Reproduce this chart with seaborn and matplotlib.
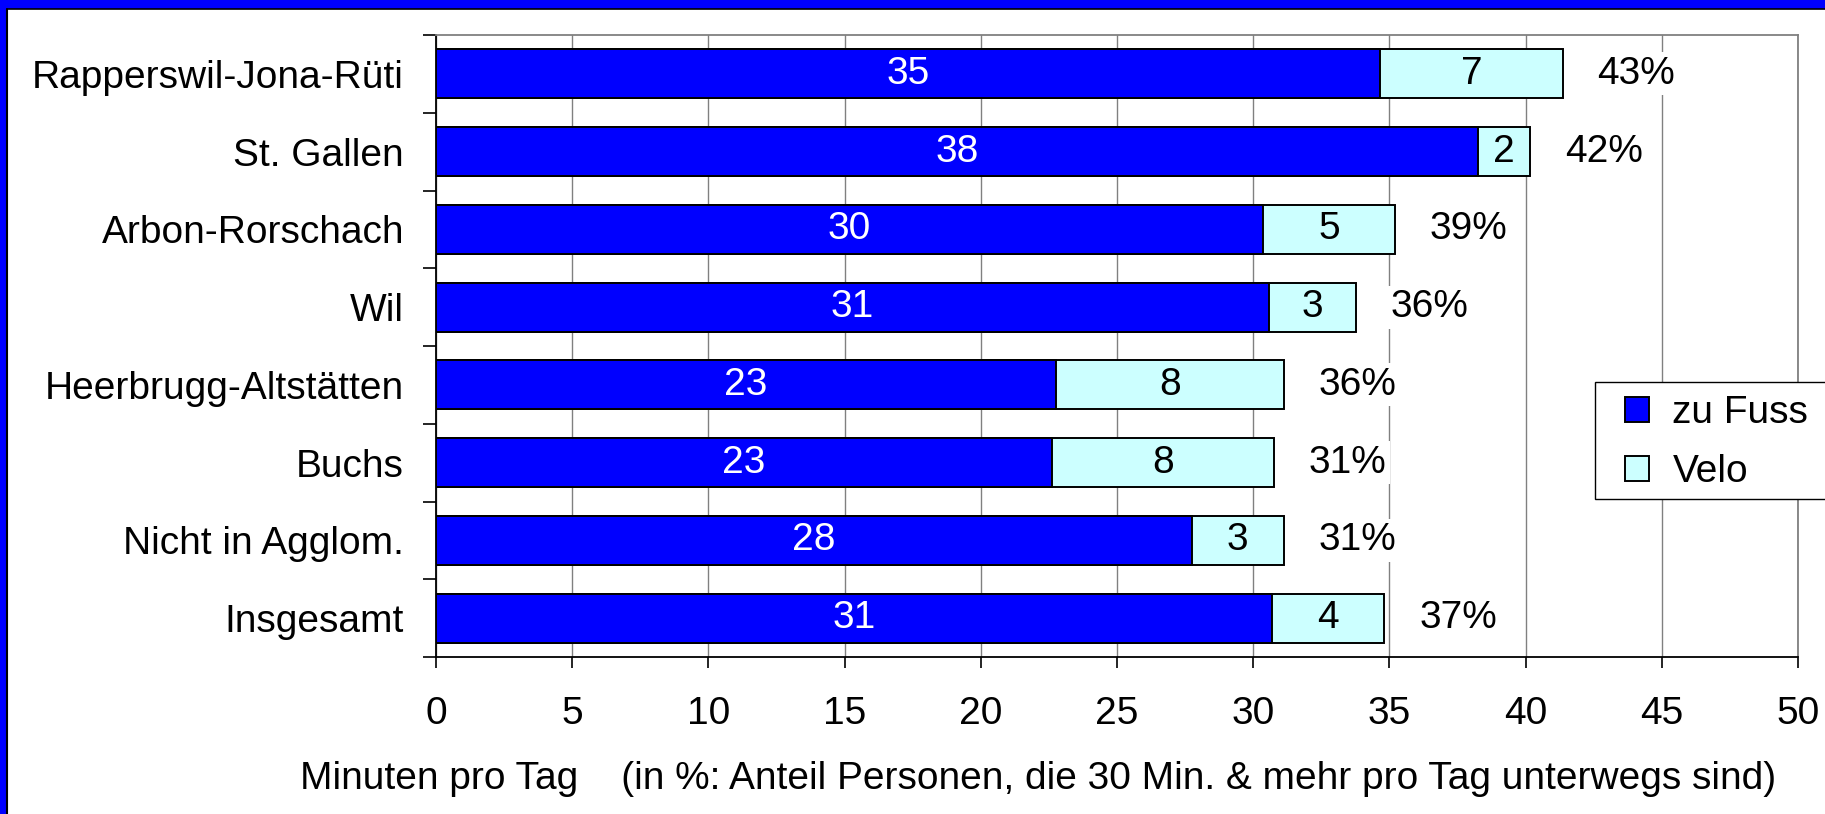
import matplotlib
matplotlib.use("Agg")
import matplotlib.pyplot as plt
from matplotlib.patches import Rectangle, Patch
import seaborn as sns
import pandas as pd

# Agglomerations and average minutes per day on foot / by bike
regions = ["Rapperswil-Jona-Rüti", "St. Gallen", "Arbon-Rorschach", "Wil",
           "Heerbrugg-Altstätten", "Buchs", "Nicht in Agglom.", "Insgesamt"]
fuss = [34.66, 38.25, 30.36, 30.57, 22.75, 22.6, 27.75, 30.68]
velo = [6.70, 1.91, 4.83, 3.20, 8.37, 8.16, 3.37, 4.14]
anteil = [43, 42, 39, 36, 36, 31, 31, 37]   # share of people with 30+ min per day
xticks = list(range(0, 51, 5))
series_names = ["zu Fuss", "Velo"]

BLUE = "#0000FF"
CYAN = "#CCFFFF"
GRID = "#808080"

sns.set_style("white")
plt.rcParams["font.family"] = ["Liberation Sans", "DejaVu Sans"]
plt.rcParams["text.color"] = "black"
plt.rcParams["xtick.color"] = "black"
plt.rcParams["ytick.color"] = "black"
plt.rcParams["axes.labelcolor"] = "black"
FS = 28

df = pd.DataFrame({"region": regions, "fuss": fuss, "velo": velo})
df["total"] = df["fuss"] + df["velo"]

W, H = 1825, 814
fig = plt.figure(figsize=(W / 100, H / 100), dpi=100)
fig.patch.set_facecolor("white")

# blue frame along top and left edge with a thin dark inner line
fig.add_artist(Rectangle((0, 1 - 9 / H), 1, 9 / H, transform=fig.transFigure,
                         facecolor=BLUE, edgecolor="none", zorder=0))
fig.add_artist(Rectangle((0, 0), 7 / W, 1, transform=fig.transFigure,
                         facecolor=BLUE, edgecolor="none", zorder=0))
fig.add_artist(plt.Line2D([7.5 / W, 1], [1 - 9 / H, 1 - 9 / H], transform=fig.transFigure,
                          color="black", lw=1.2, zorder=1))
fig.add_artist(plt.Line2D([7.5 / W, 7.5 / W], [0, 1 - 9 / H], transform=fig.transFigure,
                          color="black", lw=1.5, zorder=1))

ax = fig.add_axes([436 / W, 1 - 657 / H, (1798 - 436) / W, (657 - 35) / H])

# stacked bars: total (Velo colour) first, then the walking share on top
sns.barplot(data=df, x="total", y="region", orient="h", color=CYAN, width=0.63,
            edgecolor="black", linewidth=1.4, saturation=1, ax=ax, zorder=3)
sns.barplot(data=df, x="fuss", y="region", orient="h", color=BLUE, width=0.63,
            edgecolor="black", linewidth=1.4, saturation=1, ax=ax, zorder=3)

for i, (f, v, t, p) in enumerate(zip(df["fuss"], df["velo"], df["total"], anteil)):
    ax.text(f / 2, i, f"{f:.0f}", ha="center", va="center", color="white",
            fontsize=FS, zorder=5)
    ax.text(f + v / 2, i, f"{v:.0f}", ha="center", va="center", color="black",
            fontsize=FS, zorder=5)
    ax.annotate(f"{p}%", xy=(t, i), xytext=(25, 0), textcoords="offset points",
                ha="left", va="center", fontsize=FS, color="black", zorder=2,
                bbox=dict(facecolor="white", edgecolor="none", pad=2.5))

ax.set_xlim(0, 50)
ax.set_ylim(len(regions) - 0.5, -0.5)
ax.set_xticks(xticks)
ax.set_xticklabels([str(x) for x in xticks], fontsize=FS)
ax.set_yticks(range(len(regions)))
ax.set_yticklabels(regions, fontsize=FS)
ax.set_yticks([i - 0.5 for i in range(len(regions) + 1)], minor=True)
ax.tick_params(axis="y", which="major", length=0, pad=23)
ax.tick_params(axis="y", which="minor", length=9.5, width=1.2, color="black", direction="out", left=True)
ax.tick_params(axis="x", which="major", length=8, width=1.2, color="black", direction="out",
               pad=20, bottom=True)
ax.set_xlabel("")
ax.set_ylabel("")

ax.xaxis.grid(True, color=GRID, lw=1.0, zorder=0)
ax.yaxis.grid(False)
ax.set_axisbelow(True)
for side in ("left", "bottom"):
    ax.spines[side].set_color("black")
    ax.spines[side].set_linewidth(1.3)
for side in ("top", "right"):
    ax.spines[side].set_color(GRID)
    ax.spines[side].set_linewidth(1.3)

fig.text(300 / W, 1 - 779 / H,
         "Minuten pro Tag    (in %: Anteil Personen, die 30 Min. & mehr pro Tag unterwegs sind)",
         ha="left", va="center", fontsize=FS)

# legend box (runs past the right edge) and its entries
fig.add_artist(Rectangle((1595 / W, 1 - 499 / H), (1840 - 1595) / W, 117 / H,
                         transform=fig.transFigure, facecolor="white",
                         edgecolor="black", lw=1.0, zorder=6))
handles = [Patch(facecolor=BLUE, edgecolor="black", lw=1.4),
           Patch(facecolor=CYAN, edgecolor="black", lw=1.4)]
leg = fig.legend(handles, series_names, loc="center left",
                 bbox_to_anchor=(1625 / W, 1 - 442.5 / H), fontsize=FS,
                 frameon=False, handlelength=0.62, handleheight=0.62,
                 handletextpad=0.6, borderpad=0, labelspacing=0.6,
                 borderaxespad=0)
leg.set_zorder(7)

fig.savefig("out.png", dpi=100)
